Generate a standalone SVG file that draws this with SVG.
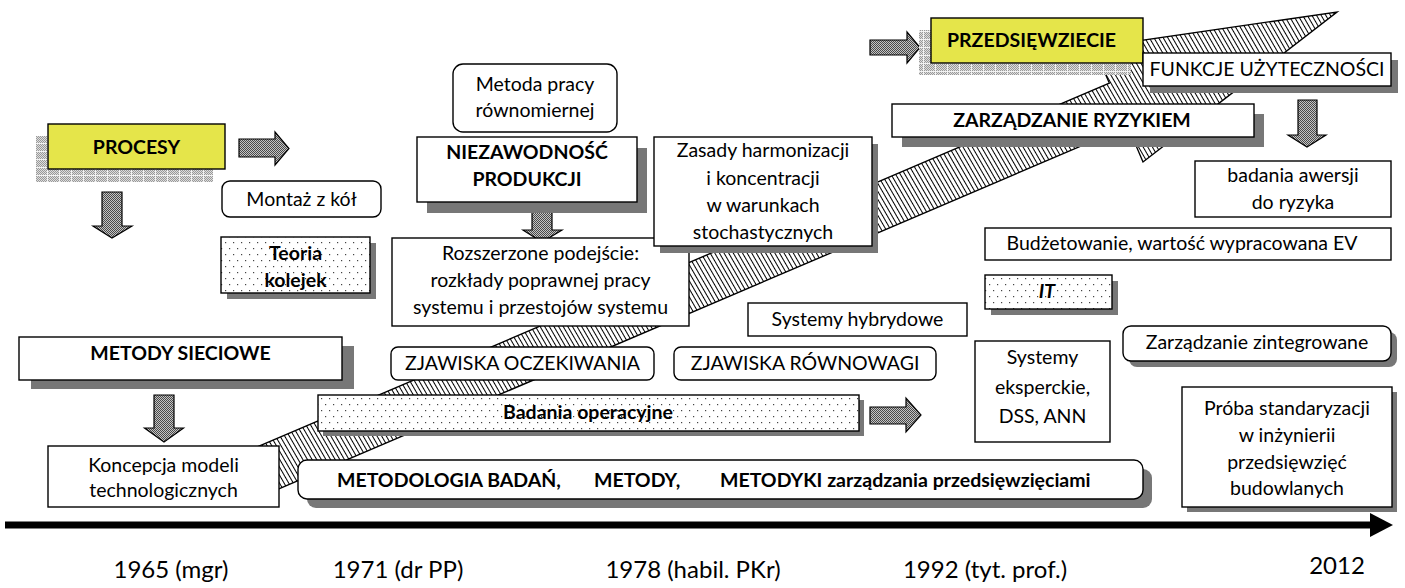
<svg xmlns="http://www.w3.org/2000/svg" width="1405" height="588" viewBox="0 0 1405 588">
<defs>
<style>
.box{fill:#fff;stroke:#000;stroke-width:1.4}
.dot{fill:url(#dots);stroke:#000;stroke-width:1.4}
.yel{fill:#e5e54a;stroke:#000;stroke-width:1.4}
.sh{fill:#777}
.brk{fill:url(#brick)}
.blk{fill:url(#stip);stroke:#000;stroke-width:1.2}
text{font-family:Lato,"Noto Sans","DejaVu Sans",sans-serif;font-size:19.5px;text-anchor:middle;fill:#000}
.b{font-weight:bold}
.s{text-anchor:start}
.yr{font-size:24px}
</style>
<pattern id="hatch" width="4" height="4" patternUnits="userSpaceOnUse" patternTransform="rotate(-30)">
<rect width="4" height="4" fill="#fff"/>
<line x1="0.5" y1="0" x2="0.5" y2="4" stroke="#000" stroke-width="1"/>
</pattern>
<pattern id="stip" width="2" height="2" patternUnits="userSpaceOnUse">
<rect width="2" height="2" fill="#c4c4c4"/>
<rect width="1" height="1" fill="#4a4a4a"/>
<rect x="1" y="1" width="1" height="1" fill="#4a4a4a"/>
</pattern>
<pattern id="stipL" width="2" height="2" patternUnits="userSpaceOnUse">
<rect width="2" height="2" fill="#dedede"/>
<rect width="1" height="1" fill="#999"/>
<rect x="1" y="1" width="1" height="1" fill="#999"/>
</pattern>
<pattern id="brick" width="12" height="8" patternUnits="userSpaceOnUse">
<rect width="12" height="8" fill="url(#stipL)"/>
<line x1="0" y1="7.5" x2="12" y2="7.5" stroke="#f2f2f2" stroke-width="1"/>
<line x1="11.5" y1="0" x2="11.5" y2="8" stroke="#f2f2f2" stroke-width="1"/>
</pattern>
<pattern id="dots" width="8" height="12" patternUnits="userSpaceOnUse">
<rect width="8" height="12" fill="#fff"/>
<rect x="1" y="2" width="1.2" height="1.2" fill="#444"/>
<rect x="5" y="8" width="1.2" height="1.2" fill="#444"/>
</pattern>
</defs>
<rect width="1405" height="588" fill="#fff"/>

<g id="trend">
<polygon points="232,457.7 1109.3,83.1 1094,47.2 1337,12 1143,162 1127.7,126.1 250.5,500.9" fill="url(#hatch)" stroke="#000" stroke-width="1.4" stroke-linejoin="miter"/>
</g>

<g id="timeline">
<rect x="5" y="521.5" width="1368" height="7" fill="#000"/>
<polygon points="1370,513 1393,525 1370,537" fill="#000"/>
<text class="yr" x="171" y="578">1965 (mgr)</text>
<text class="yr" x="398" y="578">1971 (dr PP)</text>
<text class="yr" x="693" y="578">1978 (habil. PKr)</text>
<text class="yr" x="985" y="578">1992 (tyt. prof.)</text>
<text class="yr" x="1337" y="574">2012</text>
</g>

<g id="connectors">
<polygon class="blk" points="239,139 275,139 275,132 289,148.5 275,165 275,157 239,157"/>
<polygon class="blk" points="102,192 122,192 122,226 132,226 112,238 93,226 102,226"/>
<polygon class="blk" points="532,209 552,209 552,230 562,230 542,242 523,230 532,230"/>
<polygon class="blk" points="154,395 174,395 174,428 183.5,428 164,442 144.5,428 154,428"/>
<polygon class="blk" points="870,40 907,40 907,32 920,47.5 907,63 907,55 870,55"/>
<polygon class="blk" points="870,407 906,407 906,398 921,415 906,432 906,424 870,424"/>
<polygon class="blk" points="1298,100 1317,100 1317,135 1326,135 1307,147 1288,135 1298,135"/>
</g>

<g id="n-procesy">
<rect class="brk" x="36" y="136" width="177" height="46"/>
<rect class="yel" x="48" y="124" width="177" height="45"/>
<text class="b" x="136.5" y="154">PROCESY</text>
</g>
<g id="n-montaz">
<rect class="box" x="222" y="181" width="159" height="36" rx="8"/>
<text x="301.5" y="206">Montaż z kół</text>
</g>
<g id="n-teoria">
<rect class="sh" x="227" y="243" width="149" height="56"/>
<rect class="dot" x="221" y="237" width="149" height="56"/>
<text class="b" x="295.5" y="260">Teoria</text>
<text class="b" x="295.5" y="287">kolejek</text>
</g>
<g id="n-metoda">
<rect class="box" x="453" y="64" width="164" height="68" rx="10"/>
<text x="535" y="90.5">Metoda pracy</text>
<text x="535" y="116.5">równomiernej</text>
</g>
<g id="n-niezawodnosc">
<rect class="sh" x="427" y="148" width="220" height="65"/>
<rect class="box" x="417" y="137" width="220" height="65"/>
<text class="b" x="527" y="159">NIEZAWODNOŚĆ</text>
<text class="b" x="527" y="185.5">PRODUKCJI</text>
</g>
<g id="n-rozszerzone">
<rect class="box" x="392" y="238" width="297" height="88"/>
<text x="540.5" y="260">Rozszerzone podejście:</text>
<text x="540.5" y="287">rozkłady poprawnej pracy</text>
<text x="540.5" y="314">systemu i przestojów systemu</text>
</g>
<g id="n-zasady">
<rect class="sh" x="660" y="144" width="218" height="109"/>
<rect class="box" x="654" y="137" width="218" height="109"/>
<text x="763" y="157">Zasady harmonizacji</text>
<text x="763" y="185">i koncentracji</text>
<text x="763" y="212">w warunkach</text>
<text x="763" y="239">stochastycznych</text>
</g>
<g id="n-przedsiewziecie">
<rect class="brk" x="919" y="30" width="212" height="45"/>
<rect class="yel" x="931" y="18" width="212" height="45"/>
<text class="b s" x="947" y="47">PRZEDSIĘWZIECIE</text>
</g>
<g id="n-funkcje">
<rect class="sh" x="1150" y="60" width="248" height="33"/>
<rect class="box" x="1143" y="53" width="248" height="33"/>
<text x="1267" y="76">FUNKCJE UŻYTECZNOŚCI</text>
</g>
<g id="n-ryzyko">
<rect class="sh" x="902" y="114" width="362" height="33"/>
<rect class="box" x="892" y="104" width="362" height="33"/>
<text class="b" x="1072" y="127">ZARZĄDZANIE RYZYKIEM</text>
</g>
<g id="n-awersja">
<rect class="box" x="1195" y="161" width="196" height="56"/>
<text x="1293" y="182">badania awersji</text>
<text x="1293" y="209">do ryzyka</text>
</g>
<g id="n-budzet">
<rect class="box" x="985" y="228" width="406" height="32"/>
<text x="1182" y="250">Budżetowanie, wartość wypracowana EV</text>
</g>
<g id="n-it">
<rect class="sh" x="991" y="281" width="127" height="34"/>
<rect class="dot" x="985" y="275" width="127" height="34"/>
<text class="b" font-style="italic" x="1047" y="298">IT</text>
</g>
<g id="n-hybrydowe">
<rect class="box" x="748" y="303" width="219" height="33"/>
<text x="857.5" y="326">Systemy hybrydowe</text>
</g>
<g id="n-oczekiwania">
<rect class="box" x="391" y="347" width="263" height="33" rx="7"/>
<text x="522.5" y="370">ZJAWISKA OCZEKIWANIA</text>
</g>
<g id="n-rownowagi">
<rect class="box" x="674" y="347" width="262" height="33" rx="7"/>
<text x="805" y="370">ZJAWISKA RÓWNOWAGI</text>
</g>
<g id="n-eksperckie">
<rect class="box" x="975" y="341" width="135" height="101"/>
<text x="1042.5" y="364">Systemy</text>
<text x="1042.5" y="394">eksperckie,</text>
<text x="1042.5" y="423">DSS, ANN</text>
</g>
<g id="n-zintegrowane">
<rect class="sh" x="1129" y="332" width="268" height="35" rx="8"/>
<rect class="box" x="1123" y="326" width="268" height="35" rx="8"/>
<text x="1257" y="349">Zarządzanie zintegrowane</text>
</g>
<g id="n-proba">
<rect class="sh" x="1187" y="392" width="210" height="120"/>
<rect class="box" x="1182" y="387" width="210" height="120"/>
<text x="1287" y="415">Próba standaryzacji</text>
<text x="1287" y="442">w inżynierii</text>
<text x="1287" y="469">przedsięwzięć</text>
<text x="1287" y="495">budowlanych</text>
</g>
<g id="n-sieciowe">
<rect class="sh" x="31" y="346" width="323" height="43"/>
<rect class="box" x="19" y="337" width="323" height="43"/>
<text class="b" x="180.5" y="360">METODY SIECIOWE</text>
</g>
<g id="n-koncepcja">
<rect class="box" x="48" y="446" width="231" height="61"/>
<text x="163.5" y="472">Koncepcja modeli</text>
<text x="163.5" y="497">technologicznych</text>
</g>
<g id="n-badania">
<rect class="sh" x="323" y="400" width="541" height="36"/>
<rect class="dot" x="318" y="395" width="541" height="36"/>
<text class="b" x="588" y="419">Badania operacyjne</text>
</g>
<g id="n-metodologia">
<rect class="sh" x="307" y="469" width="845" height="39" rx="9"/>
<rect class="box" x="298" y="460" width="845" height="39" rx="9"/>
<text class="b s" x="337" y="487">METODOLOGIA BADAŃ,</text>
<text class="b s" x="594" y="487">METODY,</text>
<text class="b s" x="720" y="487">METODYKI zarządzania przedsięwzięciami</text>
</g>
</svg>
